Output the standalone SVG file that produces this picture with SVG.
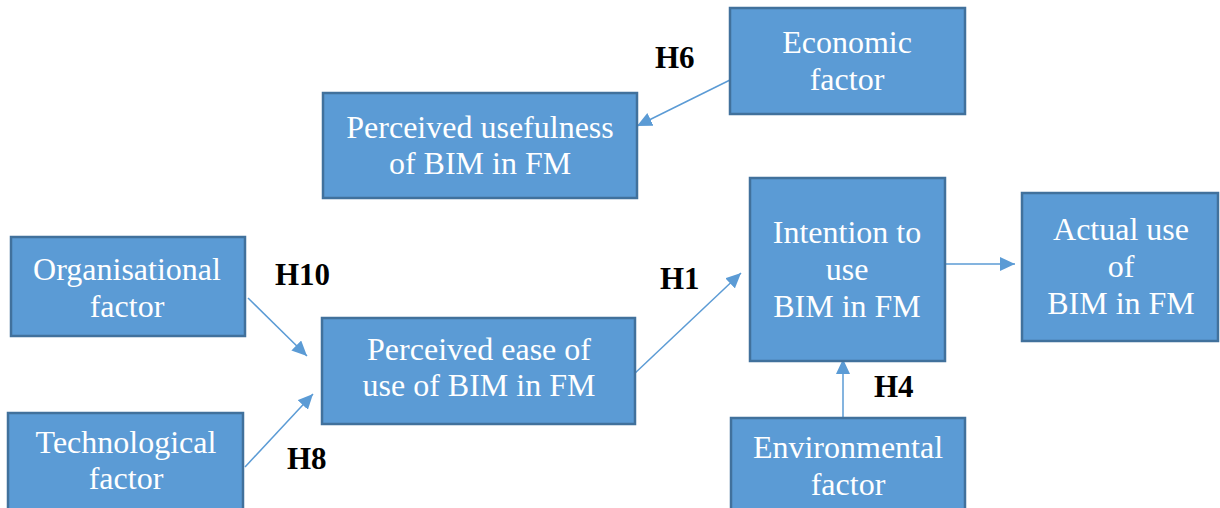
<svg xmlns="http://www.w3.org/2000/svg" width="1220" height="508" viewBox="0 0 1220 508">
<style>
.box{fill:#5B9BD5;stroke:#41719C;stroke-width:2.5}
.t{font-family:"Liberation Serif","Times New Roman",serif;font-size:32px;fill:#fff;text-anchor:middle}
.h{font-family:"Liberation Serif","Times New Roman",serif;font-size:31px;font-weight:bold;fill:#000}
.c{stroke:#5B9BD5;stroke-width:1.5;fill:none;marker-end:url(#ah)}
</style>
<defs>
<marker id="ah" markerUnits="userSpaceOnUse" markerWidth="16" markerHeight="14" refX="15" refY="7" orient="auto">
<path d="M0,0 L15,7 L0,14 Z" fill="#5B9BD5"/>
</marker>
</defs>
<rect width="1220" height="508" fill="#fff"/>
<g id="connectors">
<line class="c" x1="730" y1="80" x2="637" y2="126"/>
<line class="c" x1="248" y1="298" x2="307" y2="356"/>
<line class="c" x1="245" y1="467" x2="313" y2="394"/>
<line class="c" x1="633" y1="375" x2="741" y2="273"/>
<line class="c" x1="843" y1="418" x2="843" y2="359"/>
<line class="c" x1="945" y1="264" x2="1015" y2="264"/>
</g>
<g id="economic"><rect class="box" x="730" y="8" width="235" height="106"/><text class="t" x="847" y="53">Economic</text><text class="t" x="847" y="90">factor</text></g>
<g id="usefulness"><rect class="box" x="323" y="93" width="314" height="105"/><text class="t" x="480" y="138">Perceived usefulness</text><text class="t" x="480" y="174">of BIM in FM</text></g>
<g id="organisational"><rect class="box" x="11" y="237" width="234" height="99"/><text class="t" x="127" y="280">Organisational</text><text class="t" x="127" y="317">factor</text></g>
<g id="technological"><rect class="box" x="8" y="413" width="235" height="100"/><text class="t" x="126" y="453">Technological</text><text class="t" x="126" y="489">factor</text></g>
<g id="ease"><rect class="box" x="322" y="318" width="313" height="106"/><text class="t" x="479" y="360">Perceived ease of</text><text class="t" x="479" y="396">use of BIM in FM</text></g>
<g id="intention"><rect class="box" x="750" y="178" width="195" height="183"/><text class="t" x="847" y="243">Intention to</text><text class="t" x="847" y="280">use</text><text class="t" x="847" y="317">BIM in FM</text></g>
<g id="actual"><rect class="box" x="1022" y="193" width="196" height="148"/><text class="t" x="1121" y="240">Actual use</text><text class="t" x="1121" y="277">of</text><text class="t" x="1121" y="314">BIM in FM</text></g>
<g id="environmental"><rect class="box" x="731" y="418" width="234" height="100"/><text class="t" x="848" y="458">Environmental</text><text class="t" x="848" y="495">factor</text></g>
<g id="labels">
<text class="h" x="655" y="68">H6</text>
<text class="h" x="275" y="285">H10</text>
<text class="h" x="287" y="469">H8</text>
<text class="h" x="660" y="289">H1</text>
<text class="h" x="874" y="397">H4</text>
</g>
</svg>
